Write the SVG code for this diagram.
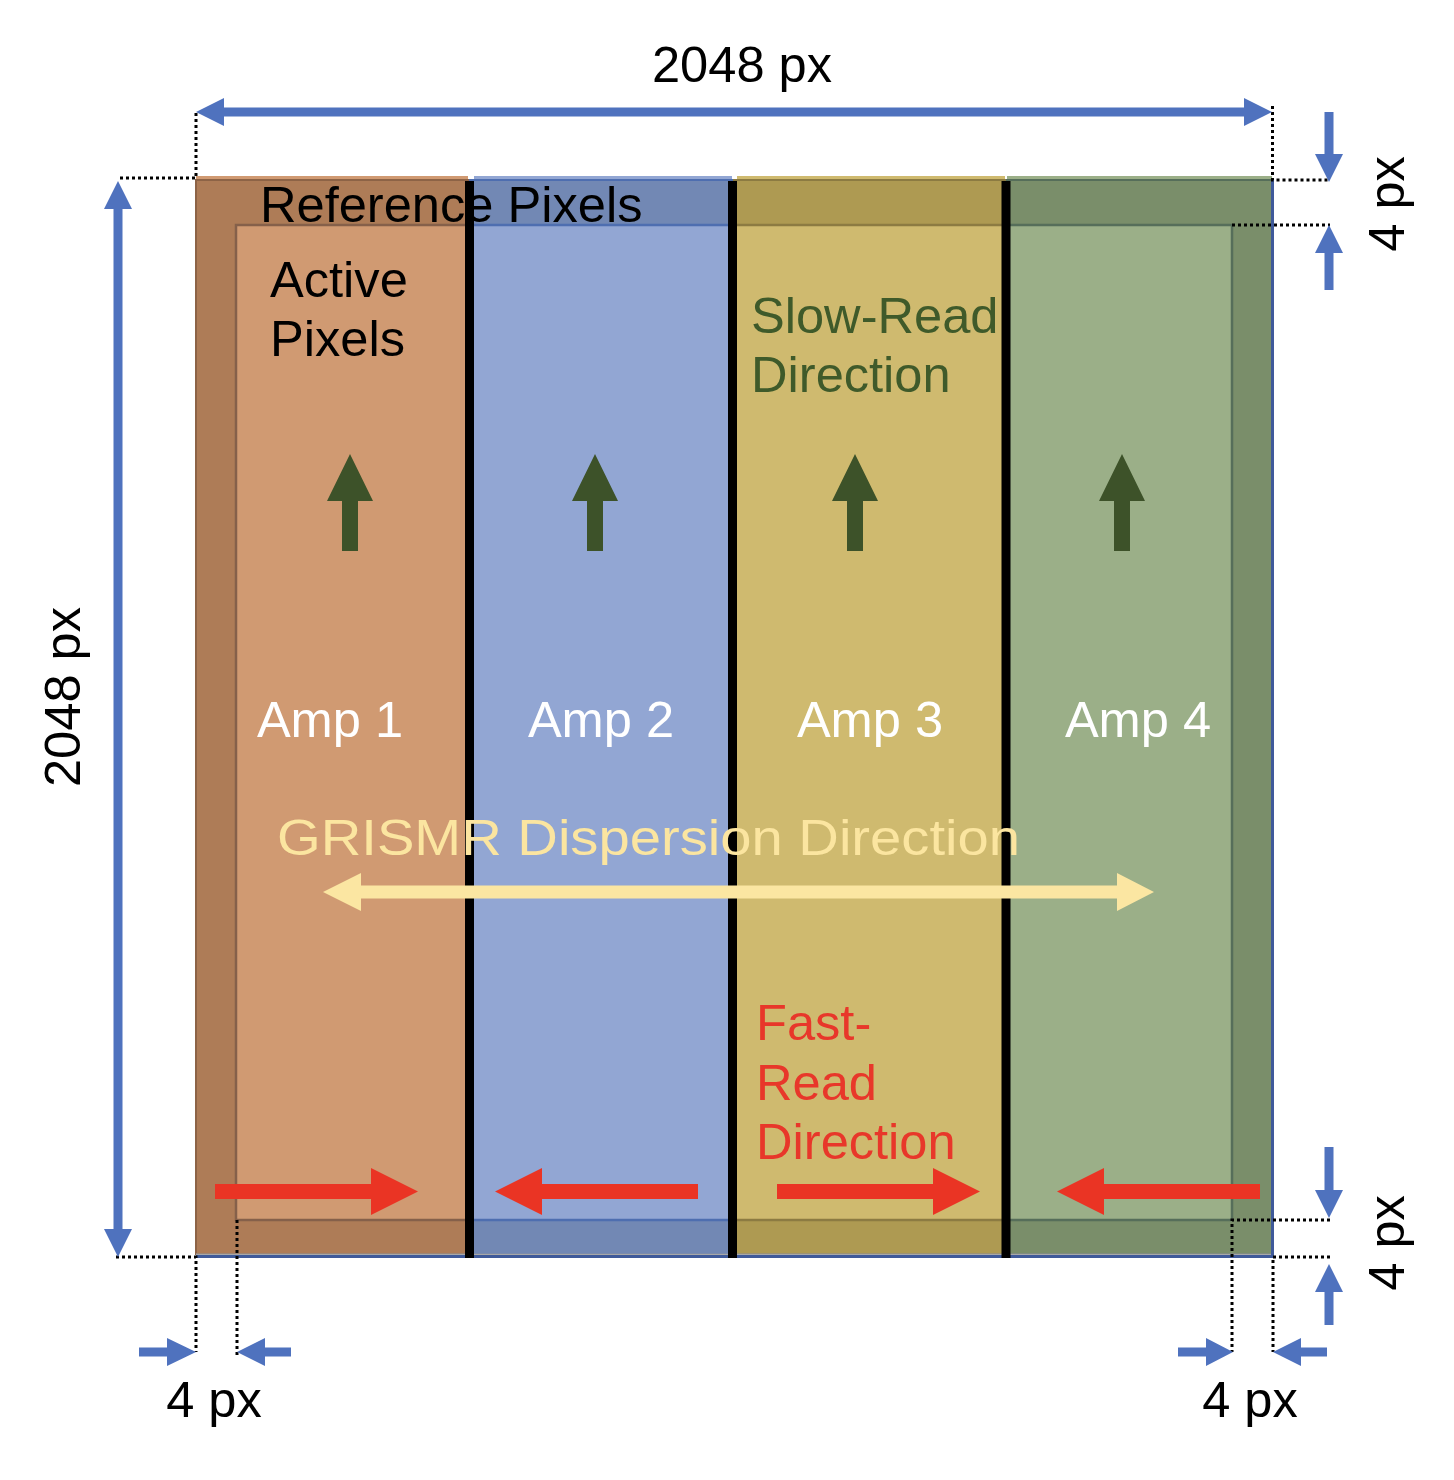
<svg xmlns="http://www.w3.org/2000/svg" width="1454" height="1480" viewBox="0 0 1454 1480">
<style>
text{font-family:"Liberation Sans",Arial,sans-serif;font-size:50.6px}
.blk{fill:#000}
.wht{fill:#fff;text-anchor:middle}
.dot{fill:none;stroke:#000;stroke-width:3;stroke-dasharray:3 3}
.blue{fill:#4F72BE}
.grn{fill:#3D5229}
.red{fill:#EA3424}
.yel{fill:#FBE6A2}
.sep{fill:#000}
</style>
<defs>
<clipPath id="c1"><rect x="190" y="170" width="279" height="1100"/></clipPath>
<clipPath id="c2"><rect x="469" y="170" width="264" height="1100"/></clipPath>
<clipPath id="c3"><rect x="733" y="170" width="273" height="1100"/></clipPath>
<clipPath id="c4"><rect x="1006" y="170" width="266" height="1100"/></clipPath>
<path id="ring" d="M196,180 H1272 V1254 H196 Z M236,225 V1220 H1232 V225 Z" fill-rule="evenodd"/>
</defs>
<rect width="1454" height="1480" fill="#fff"/>

<g id="amp1" clip-path="url(#c1)">
<rect x="196" y="176" width="272" height="1078" fill="#D09A72"/>
<use href="#ring" fill="#AE7C57"/>
<rect x="236" y="225" width="996" height="995" fill="none" stroke="#85604A" stroke-width="2.5"/>
<rect x="196" y="180" width="1076" height="1074" fill="none" stroke="#8D6346" stroke-width="2"/>
</g>
<g id="amp2" clip-path="url(#c2)">
<rect x="474" y="176" width="258" height="1078" fill="#92A6D3"/>
<use href="#ring" fill="#7288B4"/>
<rect x="236" y="225" width="996" height="995" fill="none" stroke="#4E6EB0" stroke-width="2.5"/>
<rect x="196" y="180" width="1076" height="1074" fill="none" stroke="#4E6EB0" stroke-width="2"/>
</g>
<g id="amp3" clip-path="url(#c3)">
<rect x="737" y="176" width="268" height="1078" fill="#CFBA6F"/>
<use href="#ring" fill="#AE9A52"/>
<rect x="236" y="225" width="996" height="995" fill="none" stroke="#8C7B42" stroke-width="2.5"/>
<rect x="196" y="180" width="1076" height="1074" fill="none" stroke="#8C7B42" stroke-width="2"/>
</g>
<g id="amp4" clip-path="url(#c4)">
<rect x="1007" y="176" width="265" height="1078" fill="#9BAF88"/>
<use href="#ring" fill="#7A8E6A"/>
<rect x="236" y="225" width="996" height="995" fill="none" stroke="#566E5A" stroke-width="2.5"/>
<rect x="196" y="180" width="1076" height="1074" fill="none" stroke="#566E5A" stroke-width="2"/>
</g>
<g id="frame">
<line x1="196" y1="1254.5" x2="1272" y2="1254.5" stroke="#A8A8A8" stroke-width="2"/>
<line x1="196" y1="1256.5" x2="1274" y2="1256.5" stroke="#3F5A9A" stroke-width="3"/>
<line x1="1272.5" y1="180" x2="1272.5" y2="1258" stroke="#3F5A9A" stroke-width="3"/>
</g>
<g id="separators">
<rect class="sep" x="465" y="181" width="9" height="1077"/>
<rect class="sep" x="728" y="181" width="9" height="1077"/>
<rect class="sep" x="1001.5" y="181" width="9" height="1077"/>
</g>

<g id="connectors">
<path class="dot" d="M196,113 V178 H118"/>
<path class="dot" d="M1272.5,106 V180 H1330"/>
<path class="dot" d="M1232,225 H1330"/>
<path class="dot" d="M116,1257 H196 V1352"/>
<path class="dot" d="M237,1220 V1358"/>
<path class="dot" d="M1330,1220 H1232 V1352"/>
<path class="dot" d="M1330,1257 H1273 V1352"/>
<polygon class="blue" points="196,112 224,98 224,107.5 1244,107.5 1244,98 1272,112 1244,126 1244,116.5 224,116.5 224,126"/>
<polygon class="blue" points="118,181 104,209 113.5,209 113.5,1229 104,1229 118,1257 132,1229 122.5,1229 122.5,209 132,209"/>
<polygon class="blue" points="1324.5,112 1333.5,112 1333.5,154 1343,154 1329,182 1315,154 1324.5,154"/>
<polygon class="blue" points="1329,225 1343,253 1333.5,253 1333.5,290 1324.5,290 1324.5,253 1315,253"/>
<polygon class="blue" points="1324.5,1147 1333.5,1147 1333.5,1190 1343,1190 1329,1218 1315,1190 1324.5,1190"/>
<polygon class="blue" points="1329,1264 1343,1292 1333.5,1292 1333.5,1325 1324.5,1325 1324.5,1292 1315,1292"/>
<polygon class="blue" points="139,1347.5 167,1347.5 167,1338 196,1352 167,1366 167,1356.5 139,1356.5"/>
<polygon class="blue" points="237,1352 265,1338 265,1347.5 291,1347.5 291,1356.5 265,1356.5 265,1366"/>
<polygon class="blue" points="1178,1347.5 1206,1347.5 1206,1338 1233,1352 1206,1366 1206,1356.5 1178,1356.5"/>
<polygon class="blue" points="1273,1352 1301,1338 1301,1347.5 1327,1347.5 1327,1356.5 1301,1356.5 1301,1366"/>
<polygon class="grn" points="350,454 373,501 358,501 358,551 342,551 342,501 327,501"/>
<polygon class="grn" points="595,454 618,501 603,501 603,551 587,551 587,501 572,501"/>
<polygon class="grn" points="855,454 878,501 863,501 863,551 847,551 847,501 832,501"/>
<polygon class="grn" points="1122,454 1145,501 1130,501 1130,551 1114,551 1114,501 1099,501"/>
<polygon class="yel" points="323,892 361,873 361,885.5 1117,885.5 1117,873 1154,892 1117,911 1117,898.5 361,898.5 361,911"/>
<polygon class="red" points="215,1184 371,1184 371,1168 418,1191.5 371,1215 371,1199 215,1199"/>
<polygon class="red" points="495,1191.5 542,1168 542,1184 698,1184 698,1199 542,1199 542,1215"/>
<polygon class="red" points="777,1184 933,1184 933,1168 980,1191.5 933,1215 933,1199 777,1199"/>
<polygon class="red" points="1057,1191.5 1104,1168 1104,1184 1260,1184 1260,1199 1104,1199 1104,1215"/>
</g>

<g id="labels">
<text x="742" y="82" text-anchor="middle" class="blk" font-size="50.5">2048 px</text>
<text transform="translate(80,697) rotate(-90)" text-anchor="middle" class="blk" font-size="50.5">2048 px</text>
<text transform="translate(1404,204) rotate(-90)" text-anchor="middle" class="blk" font-size="50">4 px</text>
<text transform="translate(1404,1243) rotate(-90)" text-anchor="middle" class="blk" font-size="50">4 px</text>
<text x="214" y="1417" text-anchor="middle" class="blk" font-size="50">4 px</text>
<text x="1250" y="1417" text-anchor="middle" class="blk" font-size="50">4 px</text>
<text x="260" y="222" class="blk">Reference Pixels</text>
<text x="270" y="297" class="blk">Active</text>
<text x="270" y="356" class="blk">Pixels</text>
<text x="751" y="333" fill="#3F5A2A">Slow-Read</text>
<text x="751" y="392" fill="#3F5A2A">Direction</text>
<text x="330" y="737" class="wht">Amp 1</text>
<text x="601" y="737" class="wht">Amp 2</text>
<text x="870" y="737" class="wht">Amp 3</text>
<text x="1138" y="737" class="wht">Amp 4</text>
<text x="277" y="855" fill="#FBE5A0" font-size="58" textLength="743" lengthAdjust="spacingAndGlyphs">GRISMR Dispersion Direction</text>
<text x="756" y="1040" fill="#E8372A">Fast-</text>
<text x="756" y="1100" fill="#E8372A">Read</text>
<text x="756" y="1159" fill="#E8372A">Direction</text>
</g>
</svg>
